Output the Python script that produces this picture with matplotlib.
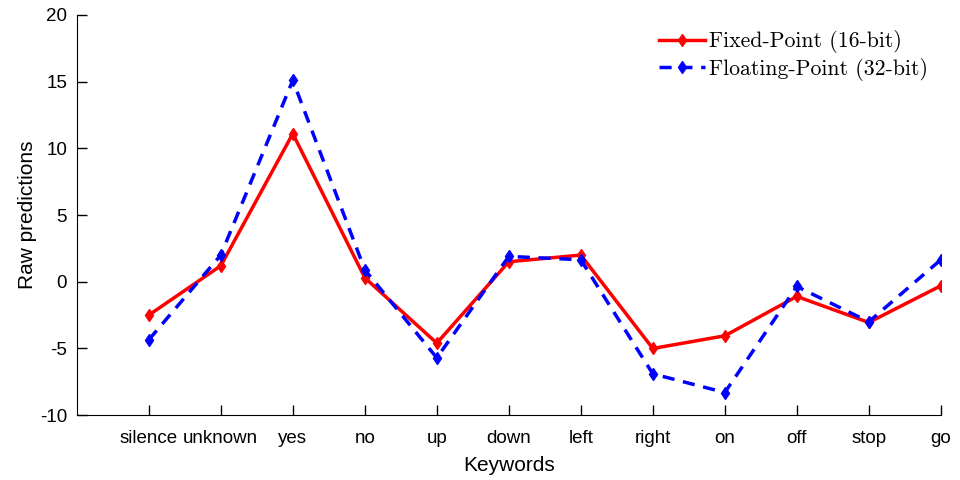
import matplotlib
matplotlib.use("Agg")
import matplotlib.pyplot as plt

keywords = ["silence", "unknown", "yes", "no", "up", "down", "left",
            "right", "on", "off", "stop", "go"]
fixed_16 = [-2.5, 1.2, 11.1, 0.3, -4.6, 1.5, 2.0, -5.0, -4.05, -1.1, -3.05, -0.3]
float_32 = [-4.35, 2.0, 15.1, 0.9, -5.7, 1.9, 1.65, -6.9, -8.3, -0.35, -3.0, 1.65]

plt.rcParams['font.family'] = ['Liberation Sans', 'DejaVu Sans']
plt.rcParams['axes.unicode_minus'] = False

fig = plt.figure(figsize=(9.6, 4.8), dpi=100)
ax = fig.add_axes([0.080, 0.135, 0.900, 0.834])

x = list(range(1, len(keywords) + 1))
ax.plot(x, fixed_16, color='red', lw=2.5, marker='d', ms=6,
        label='Fixed-Point (16-bit)')
ax.plot(x, float_32, color='blue', lw=2.5, ls='--', dashes=(3.5, 2.5),
        marker='d', ms=6, label='Floating-Point (32-bit)')

ax.set_xlim(0, 12)
ax.set_ylim(-10, 20)
ax.set_xticks(x)
ax.set_xticklabels(keywords)
ax.set_yticks([-10, -5, 0, 5, 10, 15, 20])
ax.tick_params(direction='in', length=7, width=1, labelsize=13.5)
ax.tick_params(axis='x', pad=11)
ax.tick_params(axis='y', pad=7)
ax.spines['top'].set_visible(False)
ax.spines['right'].set_visible(False)
ax.spines['bottom'].set_bounds(0, 12)
ax.set_xlabel('Keywords', fontsize=15, labelpad=6)
ax.set_ylabel('Raw predictions', fontsize=15, labelpad=2)

leg = ax.legend(loc='upper right', frameon=False, handlelength=2.1,
                handletextpad=0.2, borderaxespad=0.3, labelspacing=0.2,
                bbox_to_anchor=(1.003, 1.0),
                prop={'family': 'cmr10', 'size': 15.7})

fig.savefig('out.png', dpi=100)
